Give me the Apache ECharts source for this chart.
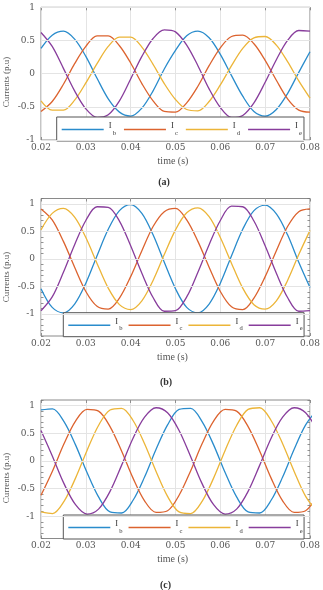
<!DOCTYPE html>
<html>
<head>
<meta charset="utf-8">
<script src="https://cdn.jsdelivr.net/npm/echarts@6/dist/echarts.min.js"></script>
<style>
  html, body { margin: 0; padding: 0; background: #fff; }
  #chart { width: 323px; height: 590px; }
</style>
</head>
<body>
<div id="chart"></div>
<script>
// 时间采样点 (s)
const timeAB = [0.02, 0.0225, 0.025, 0.0275, 0.03, 0.0325, 0.035, 0.0375, 0.04, 0.0425, 0.045, 0.0475,
  0.05, 0.0525, 0.055, 0.0575, 0.06, 0.0625, 0.065, 0.0675, 0.07, 0.0725, 0.075, 0.0775, 0.08]
const timeC = [0.02, 0.02257, 0.02513, 0.0277, 0.03027, 0.03283, 0.0354, 0.03797, 0.04053, 0.0431, 0.04567, 0.04823,
  0.0508, 0.05337, 0.05593, 0.0585, 0.06107, 0.06363, 0.0662, 0.06877, 0.07133, 0.0739, 0.07647, 0.07903, 0.0816]

// (a)
const ibA = [0.38, 0.58, 0.64, 0.52, 0.26, -0.07, -0.38, -0.58, -0.64, -0.52, -0.26, 0.07,
  0.35, 0.57, 0.64, 0.54, 0.29, -0.03, -0.34, -0.57, -0.64, -0.54, -0.30, 0.02, 0.33]
const icA = [-0.57, -0.42, -0.16, 0.15, 0.41, 0.57, 0.57, 0.42, 0.16, -0.15, -0.41, -0.57,
  -0.58, -0.44, -0.19, 0.12, 0.39, 0.56, 0.58, 0.45, 0.20, -0.10, -0.38, -0.55, -0.58]
const idA = [-0.41, -0.55, -0.55, -0.40, -0.14, 0.15, 0.41, 0.55, 0.55, 0.40, 0.14, -0.15,
  -0.39, -0.54, -0.56, -0.42, -0.17, 0.12, 0.38, 0.54, 0.56, 0.43, 0.18, -0.11, -0.37]
const ieA = [0.62, 0.41, 0.08, -0.26, -0.53, -0.66, -0.62, -0.41, -0.08, 0.26, 0.53, 0.66,
  0.63, 0.43, 0.12, -0.23, -0.51, -0.66, -0.63, -0.44, -0.13, 0.21, 0.50, 0.65, 0.64]

// (b)
const ibB = [-0.54, -0.88, -0.98, -0.82, -0.44, 0.06, 0.54, 0.88, 0.99, 0.83, 0.44, -0.06,
  -0.54, -0.88, -0.98, -0.82, -0.44, 0.06, 0.54, 0.88, 0.98, 0.82, 0.44, -0.06, -0.52]
const icB = [0.91, 0.71, 0.32, -0.15, -0.59, -0.86, -0.91, -0.71, -0.32, 0.15, 0.59, 0.86,
  0.92, 0.71, 0.32, -0.15, -0.59, -0.87, -0.92, -0.71, -0.32, 0.15, 0.59, 0.86, 0.91]
const idB = [0.53, 0.83, 0.92, 0.76, 0.39, -0.08, -0.53, -0.83, -0.92, -0.76, -0.39, 0.08,
  0.53, 0.84, 0.93, 0.77, 0.39, -0.08, -0.53, -0.83, -0.91, -0.76, -0.39, 0.08, 0.52]
const ieB = [-0.94, -0.69, -0.24, 0.26, 0.70, 0.95, 0.94, 0.69, 0.24, -0.26, -0.70, -0.95,
  -0.94, -0.69, -0.24, 0.26, 0.70, 0.96, 0.95, 0.69, 0.24, -0.26, -0.70, -0.95, -0.94]

// (c)
const ibC = [0.92, 0.94, 0.71, 0.29, -0.21, -0.65, -0.92, -0.94, -0.71, -0.29, 0.21, 0.65,
  0.93, 0.95, 0.71, 0.29, -0.21, -0.65, -0.92, -0.94, -0.71, -0.29, 0.21, 0.65, 0.92]
const icC = [-0.62, -0.18, 0.31, 0.72, 0.93, 0.90, 0.62, 0.18, -0.31, -0.72, -0.93, -0.90,
  -0.62, -0.18, 0.31, 0.72, 0.93, 0.90, 0.62, 0.18, -0.31, -0.72, -0.93, -0.90, -0.62]
const idC = [-0.92, -0.95, -0.73, -0.31, 0.19, 0.64, 0.92, 0.95, 0.73, 0.31, -0.19, -0.64,
  -0.92, -0.95, -0.73, -0.31, 0.19, 0.64, 0.93, 0.96, 0.73, 0.31, -0.19, -0.64, -0.92]
const ieC = [0.55, 0.08, -0.41, -0.79, -0.96, -0.87, -0.55, -0.08, 0.41, 0.79, 0.96, 0.87,
  0.55, 0.08, -0.41, -0.79, -0.96, -0.87, -0.55, -0.08, 0.41, 0.79, 0.96, 0.87, 0.55]

const names = ['Ib', 'Ic', 'Id', 'Ie']
const subs = ['b', 'c', 'd', 'e']
const yGridValues = [-1, -0.5, 0, 0.5, 1]
const tags = ['(a)', '(b)', '(c)']

const colors = ['#2a8ccc', '#dc632f', '#ecb538', '#883d9c']
const FONT = '"DejaVu Serif", serif'
const SERIF = '"Liberation Serif", serif'

// 每个子图的位置
const panels = [
  { time: timeAB, data: [ibA, icA, idA, ieA], top: 7.3, height: 132.7, yMin: -1, yMax: 1, yStep: 0.5,
    legendLeft: 56.7, legendTop: 117, gap: 8, padR: 2, yNameY: 82, xNameX: 173, xNameY: 161.3, tagX: 164, tagY: 182.7 },
  { time: timeAB, data: [ibB, icB, idB, ieB], top: 198.5, height: 137.5, yMin: -1.4, yMax: 1.1, yStep: 0.1,
    legendLeft: 63.3, legendTop: 312.7, gap: 6, padR: 1.5, yNameY: 277, xNameX: 172.5, xNameY: 357.3, tagX: 166, tagY: 382.7 },
  { time: timeC, data: [ibC, icC, idC, ieC], top: 400, height: 138.5, yMin: -1.4, yMax: 1.1, yStep: 0.1,
    legendLeft: 63.3, legendTop: 515, gap: 6, padR: 1.5, yNameY: 478, xNameX: 172.7, xNameY: 559, tagX: 165.5, tagY: 585 }
]

const grid = [], xAxis = [], yAxis = [], series = [], legend = [], graphic = []

panels.forEach((p, i) => {
  grid.push({ left: 41, top: p.top, width: 274.5, height: p.height, show: true,
    borderColor: '#8a8a8a', borderWidth: 1, backgroundColor: '#fff' })

  const noLine = { show: false, onZero: false }
  const tick = { show: true, inside: true, length: 3, lineStyle: { color: '#777', width: 0.8 } }
  // 下方x轴 + 上方镜像
  xAxis.push({
    gridIndex: i, type: 'value', position: 'bottom', min: 0.02, max: 0.08, interval: 0.01,
    axisLine: noLine, axisTick: tick,
    axisLabel: { fontFamily: FONT, fontSize: 9, color: '#555', margin: 3 },
    splitLine: { show: true, lineStyle: { color: '#e4e4e4', width: 1 } }
  })
  xAxis.push({
    gridIndex: i, type: 'value', position: 'top', min: 0.02, max: 0.08, interval: 0.01,
    axisLine: noLine, axisTick: tick, axisLabel: { show: false }, splitLine: { show: false }
  })
  // 左y轴 + 右侧镜像
  const ytick = { show: true, inside: true, length: 2.5, lineStyle: { color: '#777', width: 0.8 } }
  yAxis.push({
    gridIndex: i, type: 'value', position: 'left', min: p.yMin, max: p.yMax, interval: p.yStep,
    axisLine: noLine, axisTick: ytick,
    axisLabel: {
      fontFamily: FONT, fontSize: 9, color: '#555', margin: 6,
      formatter: v => Math.abs(v * 2 - Math.round(v * 2)) < 1e-6 ? String(Math.round(v * 10) / 10) : ''
    },
    splitLine: { show: false }
  })
  yAxis.push({
    gridIndex: i, type: 'value', position: 'right', min: p.yMin, max: p.yMax, interval: p.yStep,
    axisLine: noLine, axisTick: ytick, axisLabel: { show: false }, splitLine: { show: false }
  })

  // 水平网格线
  series.push({
    type: 'line', xAxisIndex: i * 2, yAxisIndex: i * 2, data: [], silent: true, z: 1,
    markLine: {
      silent: true, symbol: ['none', 'none'], label: { show: false },
      lineStyle: { color: '#e4e4e4', width: 1, type: 'solid' },
      data: yGridValues.map(v => ({ yAxis: v }))
    }
  })

  p.data.forEach((vals, j) => {
    series.push({
      name: names[j], type: 'line', xAxisIndex: i * 2, yAxisIndex: i * 2,
      data: p.time.map((t, k) => [t, vals[k]]),
      symbol: 'none', smooth: 0.33, z: 2,
      color: colors[j], lineStyle: { width: 1.3, color: colors[j] }
    })
  })

  legend.push({
    left: p.legendLeft, top: p.legendTop, orient: 'horizontal', data: names,
    icon: 'rect', itemWidth: 42, itemHeight: 1.5, itemGap: p.gap,
    padding: [4.5, p.padR, 4.5, 5], backgroundColor: '#fff',
    borderColor: '#555', borderWidth: 1, borderRadius: 0, selectedMode: false,
    formatter: n => '{i|I}\n{s|' + subs[names.indexOf(n)] + '}',
    textStyle: {
      width: 10,
      rich: {
        i: { fontFamily: SERIF, fontSize: 8.5, color: '#333', lineHeight: 7 },
        s: { fontFamily: SERIF, fontSize: 6.5, color: '#333', lineHeight: 7, padding: [0, 0, 0, 4] }
      }
    }
  })

  graphic.push({
    type: 'text', x: 7, y: p.yNameY, rotation: Math.PI / 2,
    style: { text: 'Currents (p.u)', font: '9px ' + SERIF, fill: '#555', textAlign: 'center', textVerticalAlign: 'middle' }
  })
  graphic.push({
    type: 'text', x: p.xNameX, y: p.xNameY,
    style: { text: 'time (s)', font: '10px ' + SERIF, fill: '#555', textAlign: 'center', textVerticalAlign: 'middle' }
  })
  graphic.push({
    type: 'text', x: p.tagX, y: p.tagY,
    style: { text: tags[i], font: 'bold 10px ' + SERIF, fill: '#333', textAlign: 'center', textVerticalAlign: 'middle' }
  })
})

const chart = echarts.init(document.getElementById('chart'), null, { renderer: 'canvas' })
chart.setOption({
  animation: false,
  backgroundColor: '#fff',
  textStyle: { fontFamily: FONT },
  grid, xAxis, yAxis, series, legend, graphic
})
</script>
</body>
</html>
